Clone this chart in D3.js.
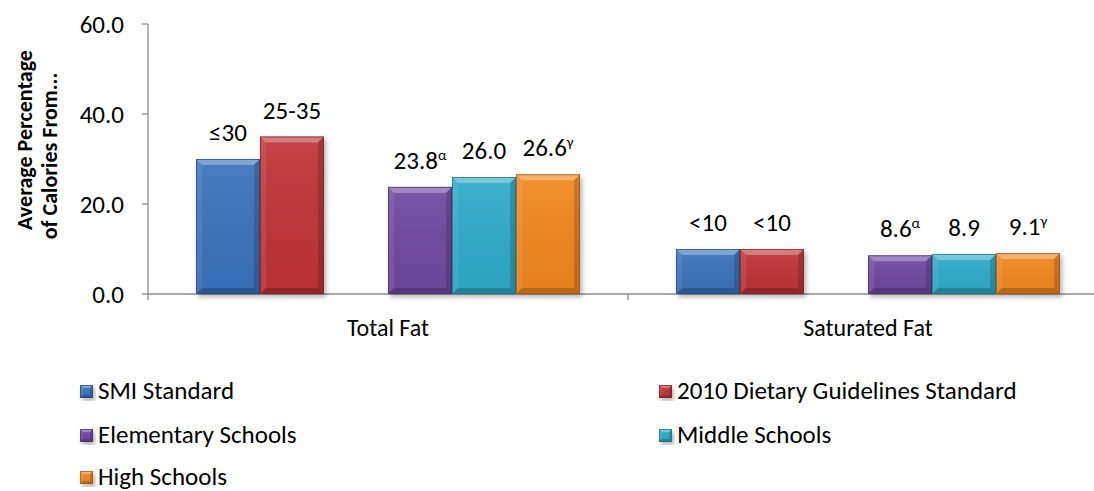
<!DOCTYPE html>
<html>
<head>
<meta charset="utf-8">
<script src="https://cdn.jsdelivr.net/npm/d3@7"></script>
<style>
  html, body { margin: 0; padding: 0; background: #fff; }
  svg { display: block; }
  text { font-family: Carlito, Calibri, "Open Sans", "Noto Sans", sans-serif; fill: #000; }
</style>
</head>
<body>
<svg id="chart" width="1094" height="491"></svg>
<script>
// Nutrient groups along the x axis
const categories = ["Total Fat", "Saturated Fat"];

// Series in drawing order; the empty key leaves a gap between standards and school levels
const seriesNames = ["SMI Standard", "2010 Dietary Guidelines Standard", "Elementary Schools", "Middle Schools", "High Schools"];
const slotOrder = ["SMI Standard", "2010 Dietary Guidelines Standard", "", "Elementary Schools", "Middle Schools", "High Schools"];
const seriesColors = ["#3a72bd", "#bf3437", "#7048a0", "#2eaac8", "#f0871f"];

// Average percentage of calories, per series, for [Total Fat, Saturated Fat]
const smiValues = [30, 10];
const dgaValues = [35, 10];
const elementaryValues = [23.8, 8.6];
const middleValues = [26.0, 8.9];
const highValues = [26.6, 9.1];

// Text shown above each bar, with an optional superscript note marker
const smiLabels = ["≤30", "<10"];
const dgaLabels = ["25-35", "<10"];
const elementaryLabels = ["23.8", "8.6"];
const middleLabels = ["26.0", "8.9"];
const highLabels = ["26.6", "9.1"];
const seriesNotes = ["", "", "α", "", "γ"];

// Y axis ticks and title
const yTicks = [0, 20, 40, 60];
const yTitleLines = ["Average Percentage", "of Calories From..."];

const allValues = [smiValues, dgaValues, elementaryValues, middleValues, highValues];
const allLabels = [smiLabels, dgaLabels, elementaryLabels, middleLabels, highLabels];

const svg = d3.select("#chart");
const plotLeft = 148, plotTop = 24, plotBottom = 294, catWidth = 480;

const x0 = d3.scaleBand().domain(categories).range([plotLeft, plotLeft + catWidth * categories.length]);
const x1 = d3.scaleBand().domain(slotOrder).range([0, x0.bandwidth()]).paddingInner(0).paddingOuter(0.75);
const y = d3.scaleLinear().domain([0, 60]).range([plotBottom, plotTop]);

const defs = svg.append("defs");
const shadow = defs.append("filter").attr("id", "shadow")
  .attr("x", "-20%").attr("y", "-20%").attr("width", "140%").attr("height", "140%");
shadow.append("feDropShadow").attr("dx", 2).attr("dy", 3).attr("stdDeviation", 2.5)
  .attr("flood-color", "#000").attr("flood-opacity", 0.3);

const face = defs.append("linearGradient").attr("id", "face").attr("x1", 0).attr("y1", 0).attr("x2", 0).attr("y2", 1);
face.append("stop").attr("offset", "0%").attr("stop-color", "#fff").attr("stop-opacity", 0.08);
face.append("stop").attr("offset", "100%").attr("stop-color", "#000").attr("stop-opacity", 0.04);

// Bevelled block: flat face plus four shaded edge trapezoids
function bevelBlock(g, x, yTop, w, h, color, b) {
  b = Math.min(b, h / 2, w / 2);
  const blk = g.append("g").attr("filter", "url(#shadow)");
  blk.append("rect").attr("x", x).attr("y", yTop).attr("width", w).attr("height", h).attr("fill", color);
  blk.append("rect").attr("x", x).attr("y", yTop).attr("width", w).attr("height", h).attr("fill", "url(#face)");
  const x2 = x + w, y2 = yTop + h;
  const edges = [
    { p: [[x, yTop], [x2, yTop], [x2 - b, yTop + b], [x + b, yTop + b]], c: "#fff", o: 0.3 },
    { p: [[x, yTop], [x + b, yTop + b], [x + b, y2 - b], [x, y2]], c: "#fff", o: 0.08 },
    { p: [[x2, yTop], [x2 - b, yTop + b], [x2 - b, y2 - b], [x2, y2]], c: "#000", o: 0.16 },
    { p: [[x, y2], [x + b, y2 - b], [x2 - b, y2 - b], [x2, y2]], c: "#000", o: 0.2 }
  ];
  edges.forEach(e => blk.append("path").attr("d", "M" + e.p.map(q => q.join(",")).join("L") + "Z")
    .attr("fill", e.c).attr("fill-opacity", e.o));
  blk.append("rect").attr("x", x + 0.5).attr("y", yTop + 0.5).attr("width", w - 1).attr("height", h - 1)
    .attr("fill", "none").attr("stroke", d3.color(color).darker(1.2)).attr("stroke-opacity", 0.7);
}

// Axes
const axisColor = "#8c8c8c";
const yAxis = svg.append("g");
yAxis.append("line").attr("x1", plotLeft).attr("x2", plotLeft).attr("y1", y(60)).attr("y2", plotBottom)
  .attr("stroke", axisColor).attr("stroke-width", 1.3);
yTicks.forEach(t => {
  yAxis.append("line").attr("x1", plotLeft - 6).attr("x2", plotLeft).attr("y1", y(t)).attr("y2", y(t))
    .attr("stroke", axisColor).attr("stroke-width", 1.3);
  yAxis.append("text").attr("x", plotLeft - 24).attr("y", y(t)).attr("dy", "0.35em")
    .attr("text-anchor", "end").style("font-size", "25px").text(t.toFixed(1));
});

const xAxis = svg.append("g");
xAxis.append("line").attr("x1", plotLeft).attr("x2", 1094).attr("y1", plotBottom).attr("y2", plotBottom)
  .attr("stroke", axisColor).attr("stroke-width", 1.3);
categories.forEach((c, i) => {
  const bx = x0(c);
  xAxis.append("line").attr("x1", bx).attr("x2", bx).attr("y1", plotBottom).attr("y2", plotBottom + 6)
    .attr("stroke", axisColor).attr("stroke-width", 1.3);
  xAxis.append("text").attr("x", bx + x0.bandwidth() / 2).attr("y", plotBottom + 42)
    .attr("text-anchor", "middle").style("font-size", "24px").text(c);
});

// Y axis title, two rotated lines
const titleX = [24, 49], titleCY = [140, 156];
yTitleLines.forEach((t, i) => {
  svg.append("text").attr("transform", `translate(${titleX[i]},${titleCY[i]}) rotate(-90)`)
    .attr("text-anchor", "middle").attr("dy", "0.35em")
    .style("font-size", "22px").style("font-weight", "bold").text(t);
});

// Bars and value labels
const bars = svg.append("g");
const labels = svg.append("g");
seriesNames.forEach((s, si) => {
  categories.forEach((c, ci) => {
    const v = allValues[si][ci];
    const bx = x0(c) + x1(s);
    const yt = y(v);
    bevelBlock(bars, bx, yt, x1.bandwidth(), plotBottom - yt, seriesColors[si], 6);
    const t = labels.append("text").attr("x", bx + x1.bandwidth() / 2).attr("y", yt - 18)
      .attr("text-anchor", "middle").style("font-size", "25px");
    t.append("tspan").text(allLabels[si][ci]);
    if (seriesNotes[si]) {
      t.append("tspan").attr("dy", -9).style("font-size", "15px").text(seriesNotes[si]);
    }
  });
});

// Legend: two columns, three rows
const legendCols = [80, 659], legendRows = [391, 435, 477];
seriesNames.forEach((s, i) => {
  const lx = legendCols[i % 2], ly = legendRows[Math.floor(i / 2)];
  bevelBlock(svg, lx, ly - 6, 13, 13, seriesColors[i], 3);
  svg.append("text").attr("x", lx + 18).attr("y", ly).attr("dy", "0.33em")
    .style("font-size", "25px").text(s);
});
</script>
</body>
</html>
